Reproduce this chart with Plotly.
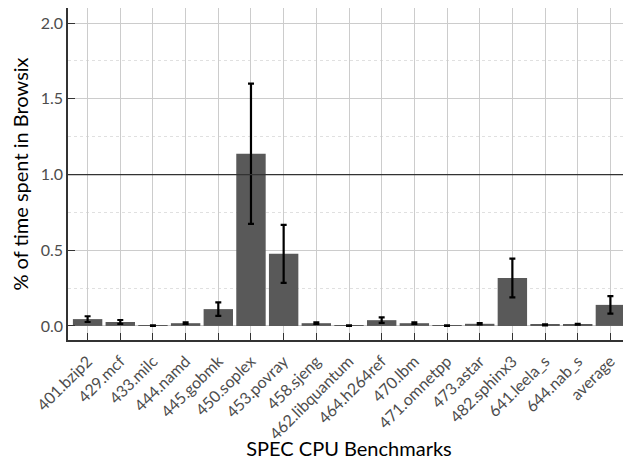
import plotly.graph_objects as go

benchmarks = ["401.bzip2", "429.mcf", "433.milc", "444.namd", "445.gobmk", "450.soplex",
              "453.povray", "458.sjeng", "462.libquantum", "464.h264ref", "470.lbm",
              "471.omnetpp", "473.astar", "482.sphinx3", "641.leela_s", "644.nab_s", "average"]
pct_time = [0.045, 0.026, 0.002, 0.018, 0.111, 1.137, 0.476, 0.018, 0.002, 0.038, 0.018,
            0.002, 0.014, 0.317, 0.007, 0.011, 0.139]
err = [0.019, 0.013, 0.002, 0.005, 0.045, 0.463, 0.192, 0.005, 0.002, 0.018, 0.005,
       0.002, 0.004, 0.128, 0.003, 0.003, 0.058]
y_ticks = [0.0, 0.5, 1.0, 1.5, 2.0]
y_tick_labels = ["0.0", "0.5", "1.0", "1.5", "2.0"]
ref_value = 1.0

FONT = "Lato"

fig = go.Figure()
fig.add_trace(go.Bar(
    x=benchmarks, y=pct_time,
    width=0.9,
    marker=dict(color="#595959", line=dict(width=0)),
    error_y=dict(type="data", array=err, symmetric=True, color="black", thickness=2.2, width=3),
))

fig.add_shape(type="line", xref="paper", x0=0, x1=1, yref="y", y0=ref_value, y1=ref_value,
              line=dict(color="#333333", width=1.2), layer="above")

# page body has an 8px default margin; size the figure to fill the rest of the window
fig.update_layout(
    width=623, height=452,
    margin=dict(l=60, r=1, t=0, b=120),
    paper_bgcolor="white", plot_bgcolor="white",
    font=dict(family=FONT, color="#4D4D4D"),
    showlegend=False,
    bargap=0.1,
)
fig.update_xaxes(
    type="category", range=[-0.6, 16.6], automargin=False,
    showgrid=True, gridcolor="#CCCCCC", gridwidth=1,
    ticks="inside", ticklen=7, tickcolor="#333333", tickwidth=1,
    showline=True, mirror=True, linecolor="#333333", linewidth=1.5,
    tickangle=-45, tickfont=dict(size=16, color="#4D4D4D", family=FONT),
    ticklabelstandoff=4,
    title=dict(text="SPEC CPU Benchmarks", font=dict(size=20, color="black", family=FONT), standoff=10),
)
fig.update_yaxes(
    range=[-0.093, 2.10], automargin=False,
    tickvals=y_ticks, ticktext=y_tick_labels,
    showgrid=True, gridcolor="#CCCCCC", gridwidth=1, zeroline=False,
    minor=dict(tickvals=[0.25, 0.75, 1.25, 1.75], showgrid=True, gridcolor="#E0E0E0", griddash="dot", gridwidth=1, ticks=""),
    ticks="inside", ticklen=7, tickcolor="#333333", tickwidth=1,
    showline=True, mirror=True, linecolor="#333333", linewidth=1.5,
    tickfont=dict(size=16, color="#4D4D4D", family=FONT),
    title=dict(text="% of time spent in Browsix", font=dict(size=20, color="black", family=FONT), standoff=8),
)

fig.write_html("out.html")
